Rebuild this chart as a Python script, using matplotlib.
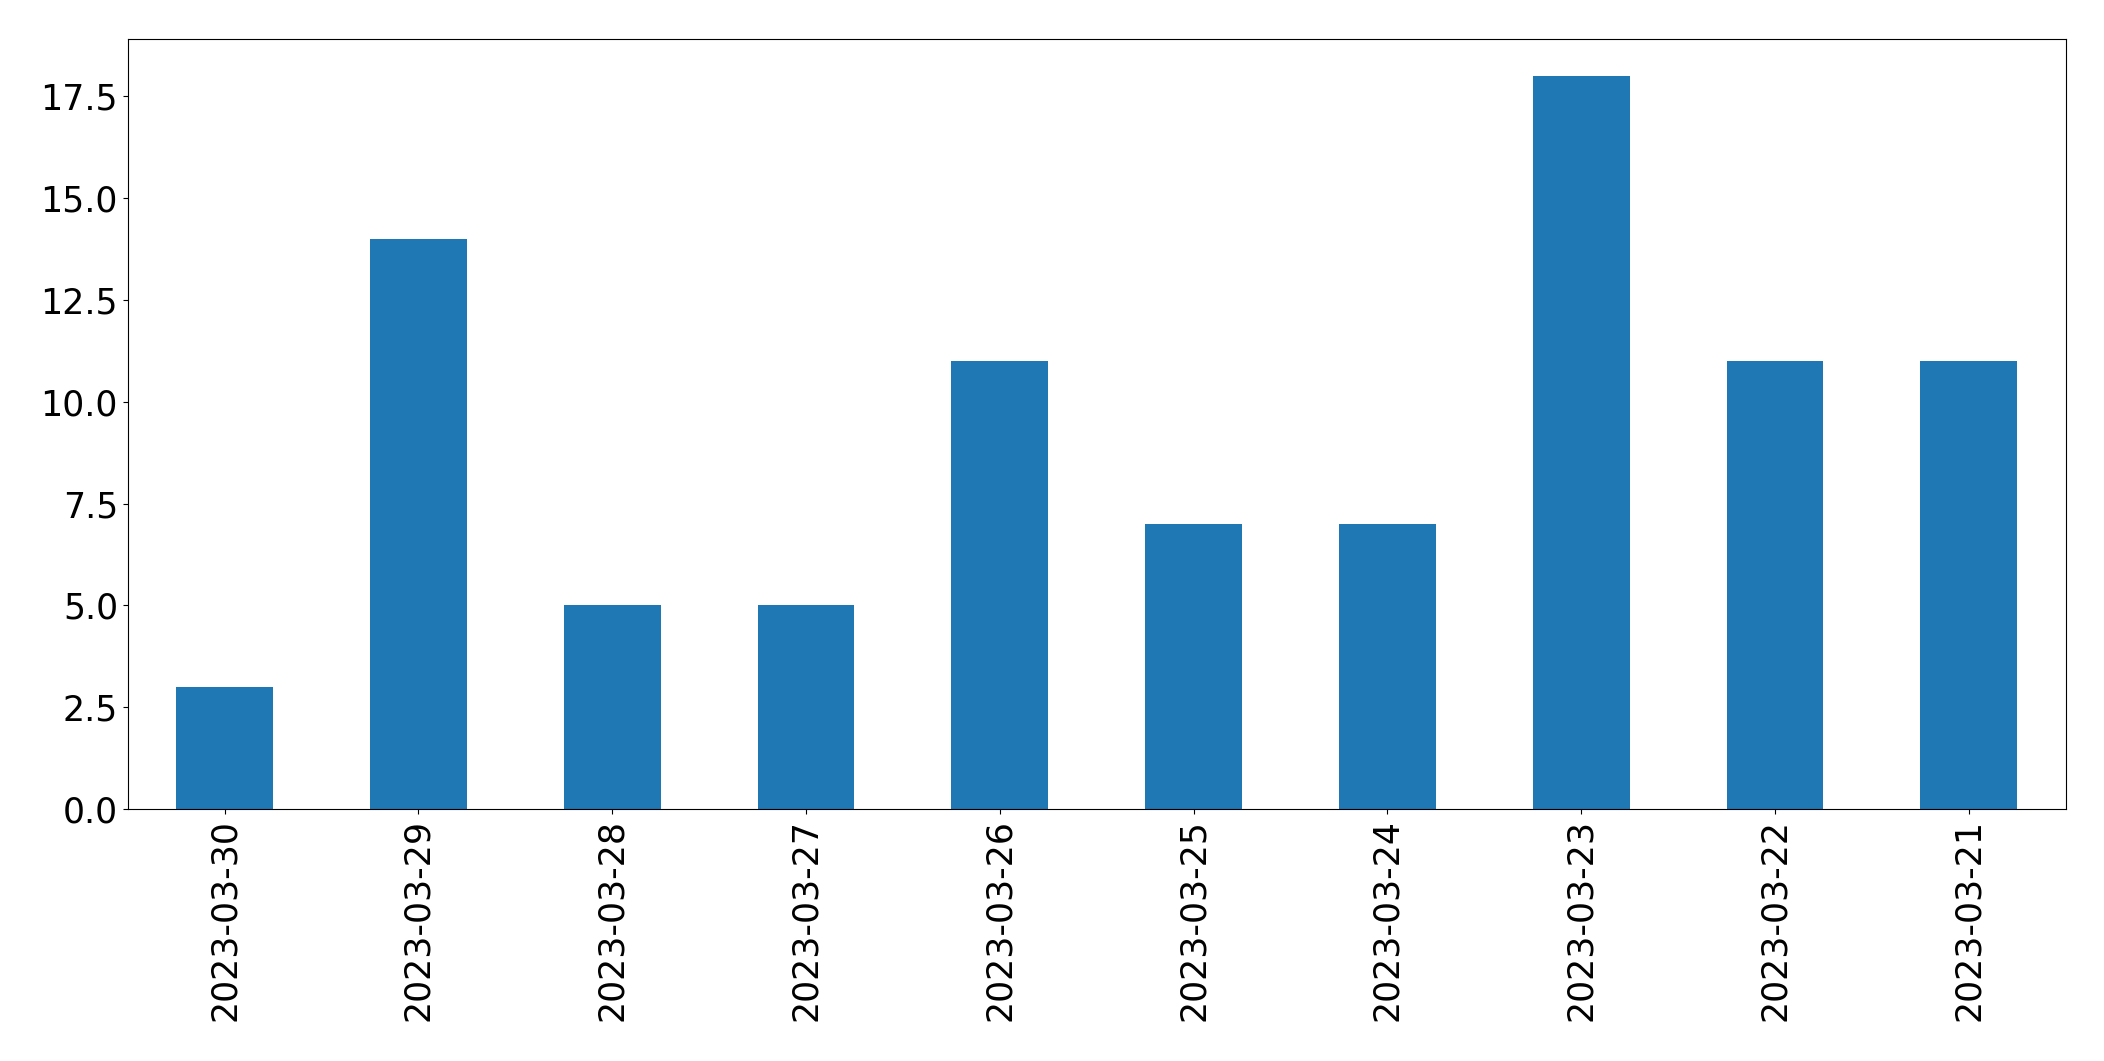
import matplotlib
matplotlib.use("Agg")
import matplotlib.pyplot as plt
import numpy as np

dates = ["2023-03-30", "2023-03-29", "2023-03-28", "2023-03-27", "2023-03-26",
         "2023-03-25", "2023-03-24", "2023-03-23", "2023-03-22", "2023-03-21"]
counts = [3, 14, 5, 5, 11, 7, 7, 18, 11, 11]

fig = plt.figure(figsize=(21.04, 10.61), dpi=100)
ax = fig.add_axes([0.0607, 0.2375, 0.9818 - 0.0607, 0.963 - 0.2375])
x = np.arange(len(dates))
ax.bar(x, counts, width=0.5, color="#1f77b4")
ax.set_xlim(-0.5, len(dates) - 0.5)
ax.set_ylim(0, max(counts) * 1.05)
ax.set_xticks(x)
ax.set_xticklabels(dates, rotation=90, fontsize=25)
ax.tick_params(axis="y", labelsize=25)
fig.savefig("out.png", dpi=100)
